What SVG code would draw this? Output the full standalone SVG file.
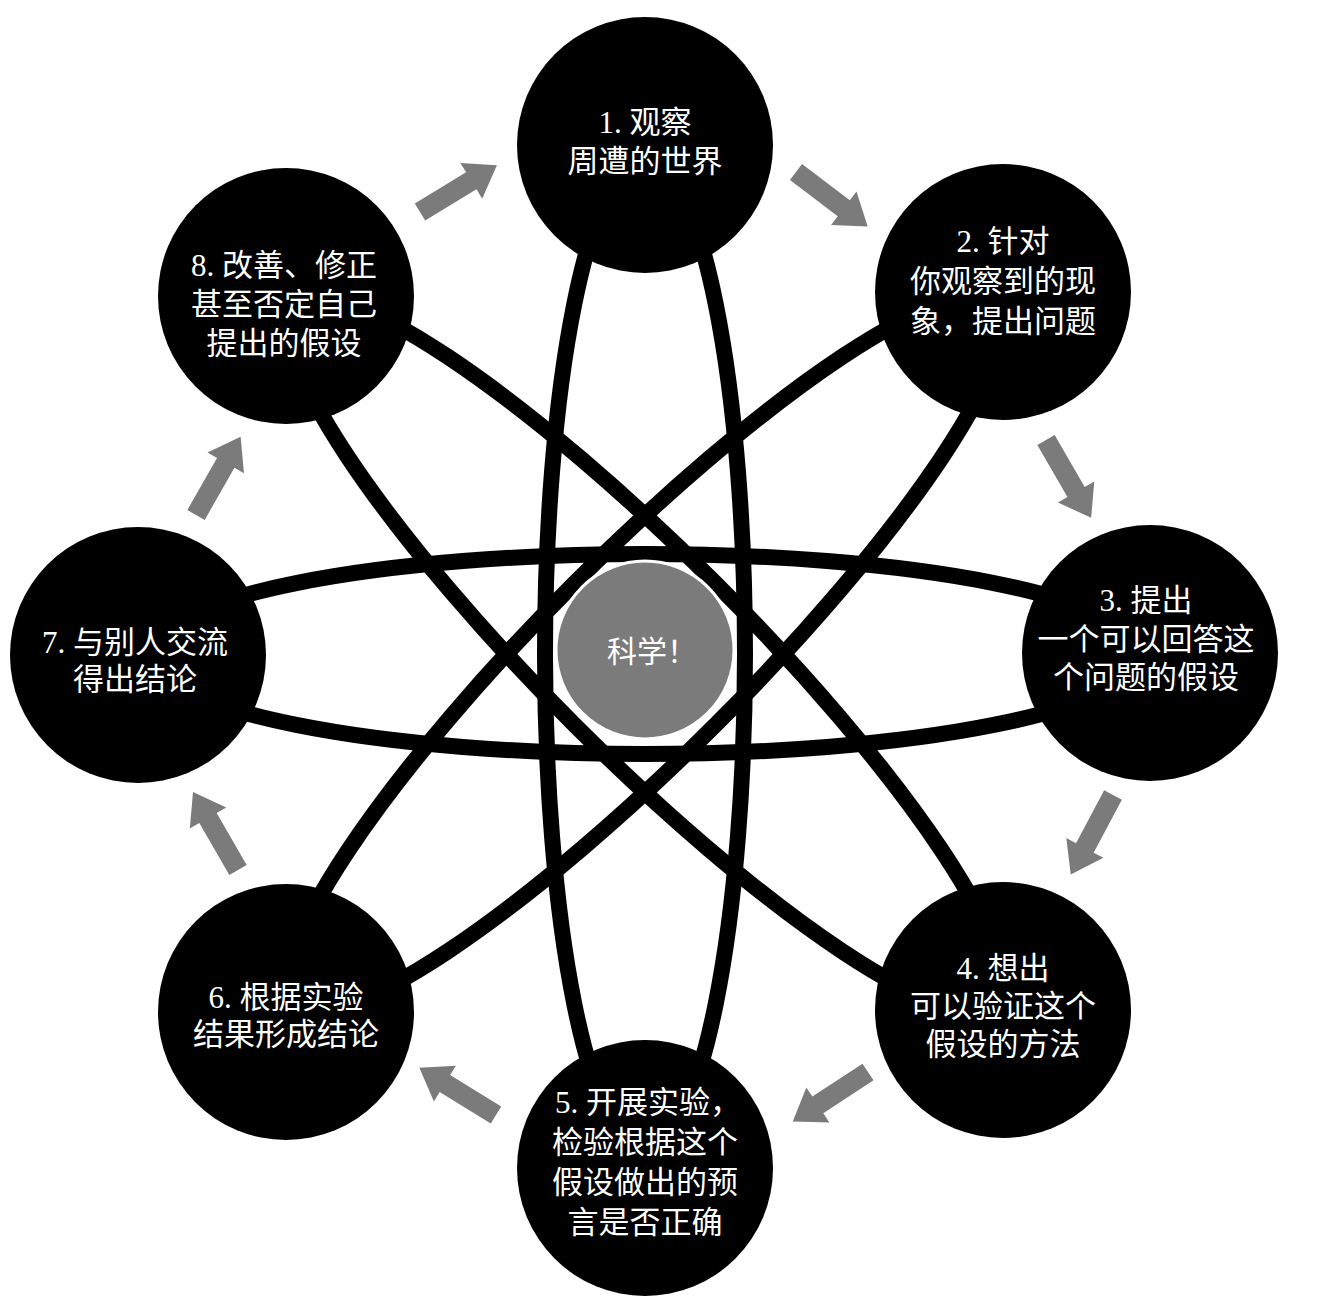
<svg xmlns="http://www.w3.org/2000/svg" width="1323" height="1303" viewBox="0 0 1323 1303">
<defs>
<style>
.node{fill:#000;}
.lbl{fill:#fff;font-family:"Liberation Serif","Noto Sans CJK SC",serif;font-size:31px;text-anchor:middle;dominant-baseline:central;}
.orb{fill:none;stroke:#000;stroke-width:16;}
.arr{fill:#7b7b7b;}
</style>
<path id="arrow" d="M0,-10 L60,-10 L60,-21 L90,0 L60,21 L60,10 L0,10 Z"/>
</defs>
<rect width="1323" height="1303" fill="#fff"/>
<g id="connectors">
<ellipse class="orb" cx="645" cy="654" rx="100" ry="495"/>
<ellipse class="orb" cx="645" cy="654" rx="100" ry="495" transform="rotate(45 645 654)"/>
<ellipse class="orb" cx="645" cy="654" rx="100" ry="495" transform="rotate(90 645 654)"/>
<ellipse class="orb" cx="645" cy="654" rx="100" ry="495" transform="rotate(-45 645 654)"/>
<g class="arr">
<use href="#arrow" transform="translate(420 212) rotate(-31.3)"/>
<use href="#arrow" transform="translate(796 172) rotate(37.2)"/>
<use href="#arrow" transform="translate(1046 440) rotate(59.9)"/>
<use href="#arrow" transform="translate(1113 795) rotate(118)"/>
<use href="#arrow" transform="translate(868 1072) rotate(146.7)"/>
<use href="#arrow" transform="translate(496 1115) rotate(-148.4)"/>
<use href="#arrow" transform="translate(238 870) rotate(-120)"/>
<use href="#arrow" transform="translate(196 515) rotate(-60.3)"/>
</g>
</g>
<g id="center">
<circle cx="645" cy="650" r="89" fill="#7b7b7b" stroke="#fff" stroke-width="3"/>
<text class="lbl" x="652" y="651" style="font-size:30px">科学！</text>
</g>
<g id="node1">
<circle class="node" cx="645" cy="145" r="128"/>
<text class="lbl" x="645" y="122">1. 观察</text>
<text class="lbl" x="645" y="161">周遭的世界</text>
</g>
<g id="node2">
<circle class="node" cx="1003" cy="292" r="128"/>
<text class="lbl" x="1003" y="241">2. 针对</text>
<text class="lbl" x="1003" y="281">你观察到的现</text>
<text class="lbl" x="1003" y="321">象，提出问题</text>
</g>
<g id="node3">
<circle class="node" cx="1150" cy="653" r="128"/>
<text class="lbl" x="1146" y="600">3. 提出</text>
<text class="lbl" x="1146" y="639">一个可以回答这</text>
<text class="lbl" x="1146" y="677">个问题的假设</text>
</g>
<g id="node4">
<circle class="node" cx="1003" cy="1010" r="128"/>
<text class="lbl" x="1003" y="968">4. 想出</text>
<text class="lbl" x="1003" y="1006">可以验证这个</text>
<text class="lbl" x="1003" y="1044">假设的方法</text>
</g>
<g id="node5">
<circle class="node" cx="645" cy="1168" r="128"/>
<text class="lbl" x="648" y="1102">5. 开展实验，</text>
<text class="lbl" x="645" y="1142">检验根据这个</text>
<text class="lbl" x="645" y="1182">假设做出的预</text>
<text class="lbl" x="645" y="1222">言是否正确</text>
</g>
<g id="node6">
<circle class="node" cx="286" cy="1012" r="128"/>
<text class="lbl" x="286" y="997">6. 根据实验</text>
<text class="lbl" x="286" y="1034">结果形成结论</text>
</g>
<g id="node7">
<circle class="node" cx="138" cy="655" r="128"/>
<text class="lbl" x="135" y="642">7. 与别人交流</text>
<text class="lbl" x="135" y="679">得出结论</text>
</g>
<g id="node8">
<circle class="node" cx="286" cy="296" r="128"/>
<text class="lbl" x="284" y="265">8. 改善、修正</text>
<text class="lbl" x="284" y="304">甚至否定自己</text>
<text class="lbl" x="284" y="343">提出的假设</text>
</g>
</svg>
